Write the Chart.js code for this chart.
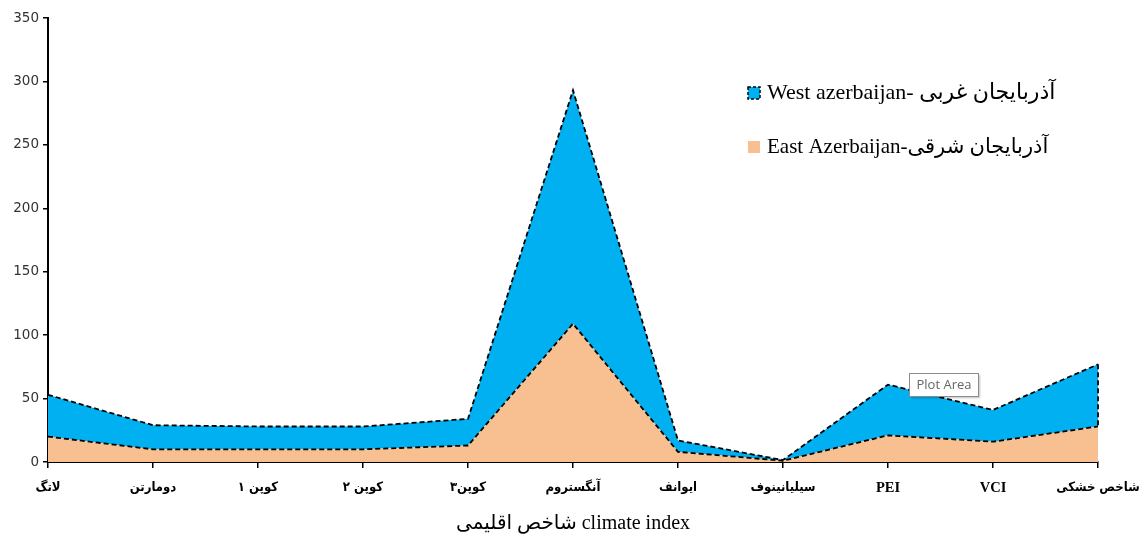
<!DOCTYPE html>
<html>
<head>
<meta charset="utf-8">
<script src="https://cdn.jsdelivr.net/npm/chart.js@4"></script>
<style>
  html, body { margin: 0; padding: 0; background: #fff; }
  #wrap { width: 1145px; height: 540px; }
</style>
</head>
<body>
<div id="wrap"><canvas id="c" width="1145" height="540"></canvas></div>
<script>
// Climate index categories (x axis)
const categories = ['لاتگ', 'دومارتن', 'کوپن ۱', 'کوپن ۲', 'کوپن۳', 'آنگستروم', 'ایوانف', 'سیلیانینوف', 'PEI', 'VCI', 'شاخص خشکی'];
// Stacked series values
const eastAzerbaijan = [20, 10, 10, 10, 13, 109, 8, 1, 21, 16, 28];
const westAzerbaijan = [33, 19, 18, 18, 21, 184, 9, 0.5, 40, 25, 49];
// Y axis ticks
const yTicks = [0, 50, 100, 150, 200, 250, 300, 350];

const eastLabel = 'East Azerbaijan-آذربایجان شرقی';
const westLabel = 'West azerbaijan- آذربایجان غربی';
const axisTitle = 'شاخص اقلیمی climate index';

const BLUE = '#00B0F0';
const ORANGE = '#F8C090';
const DASH = [5, 3];

// Dashed right-hand edge of the upper area, plus legend and hover label
const extras = {
  id: 'extras',
  afterDatasetsDraw(chart) {
    const { ctx, scales: { x, y } } = chart;
    const last = categories.length - 1;
    const px = x.getPixelForValue(last);
    ctx.save();
    ctx.strokeStyle = '#000';
    ctx.lineWidth = 1.8;
    ctx.setLineDash(DASH);
    ctx.beginPath();
    ctx.moveTo(px, y.getPixelForValue(eastAzerbaijan[last] + westAzerbaijan[last]));
    ctx.lineTo(px, y.getPixelForValue(eastAzerbaijan[last]));
    ctx.stroke();
    ctx.restore();
  },
  afterDraw(chart) {
    const { ctx } = chart;
    ctx.save();
    // legend
    ctx.textBaseline = 'middle';
    ctx.fillStyle = BLUE;
    ctx.fillRect(748, 87, 12, 12);
    ctx.strokeStyle = '#000';
    ctx.lineWidth = 1.5;
    ctx.setLineDash([3, 2]);
    ctx.strokeRect(748, 87, 12, 12);
    ctx.setLineDash([]);
    ctx.fillStyle = '#000';
    ctx.font = '22px "Liberation Serif", "DejaVu Sans"';
    ctx.fillText(westLabel, 767, 93);
    ctx.fillStyle = ORANGE;
    ctx.fillRect(748, 141, 12, 12);
    ctx.fillStyle = '#000';
    ctx.font = '21px "Liberation Serif", "DejaVu Sans"';
    ctx.fillText(eastLabel, 767, 147);
    // hover label
    ctx.shadowColor = 'rgba(0,0,0,0.25)';
    ctx.shadowOffsetX = 2;
    ctx.shadowOffsetY = 2;
    ctx.shadowBlur = 2;
    ctx.fillStyle = '#fff';
    ctx.fillRect(909, 373, 69, 23);
    ctx.shadowColor = 'transparent';
    ctx.strokeStyle = '#8c8c8c';
    ctx.lineWidth = 1;
    ctx.strokeRect(909.5, 373.5, 69, 23);
    ctx.fillStyle = '#666';
    ctx.font = '13px "Open Sans", "Noto Sans"';
    ctx.textAlign = 'center';
    ctx.fillText('Plot Area', 944, 385);
    ctx.restore();
  }
};

const isLatin = s => /^[A-Za-z]+$/.test(s);

new Chart(document.getElementById('c'), {
  type: 'line',
  data: {
    labels: categories,
    datasets: [
      {
        label: eastLabel,
        data: eastAzerbaijan,
        backgroundColor: ORANGE,
        borderColor: '#000',
        borderWidth: 1.8,
        borderDash: DASH,
        fill: 'origin',
        pointRadius: 0,
        tension: 0
      },
      {
        label: westLabel,
        data: westAzerbaijan,
        backgroundColor: BLUE,
        borderColor: '#000',
        borderWidth: 1.8,
        borderDash: DASH,
        fill: '-1',
        pointRadius: 0,
        tension: 0
      }
    ]
  },
  options: {
    responsive: false,
    animation: false,
    layout: { padding: { left: 0, right: 47, top: 18, bottom: 0 } },
    plugins: {
      legend: { display: false },
      tooltip: { enabled: false }
    },
    scales: {
      x: {
        offset: false,
        grid: { display: true, drawOnChartArea: false, drawTicks: true, tickLength: 6, color: '#000', lineWidth: 1.5 },
        border: { display: true, color: '#000', width: 2 },
        ticks: {
          color: '#000',
          maxRotation: 0,
          autoSkip: false,
          padding: 12,
          font: ctx => isLatin(categories[ctx.index] || '')
            ? { family: '"Liberation Serif"', size: 14.5, weight: 'bold' }
            : { family: '"DejaVu Sans Condensed", "DejaVu Sans"', size: 13, weight: 'bold' }
        },
        title: {
          display: true,
          text: axisTitle,
          color: '#000',
          font: { family: '"Liberation Serif", "DejaVu Sans"', size: 20 },
          padding: { top: 10, bottom: 4 }
        },
        afterFit(scale) {
          scale.height = 78;
          scale.paddingLeft = 0;
          scale.paddingRight = 0;
        }
      },
      y: {
        stacked: true,
        min: 0,
        max: 350,
        afterBuildTicks(scale) { scale.ticks = yTicks.map(v => ({ value: v })); },
        grid: { display: true, drawOnChartArea: false, drawTicks: true, tickLength: 5, color: '#000', lineWidth: 1.5 },
        border: { display: true, color: '#000', width: 2 },
        ticks: {
          color: '#333',
          padding: 4,
          font: { family: '"DejaVu Sans"', size: 13.5 }
        },
        afterFit(scale) { scale.width = 48; }
      }
    }
  },
  plugins: [extras]
});
</script>
</body>
</html>
